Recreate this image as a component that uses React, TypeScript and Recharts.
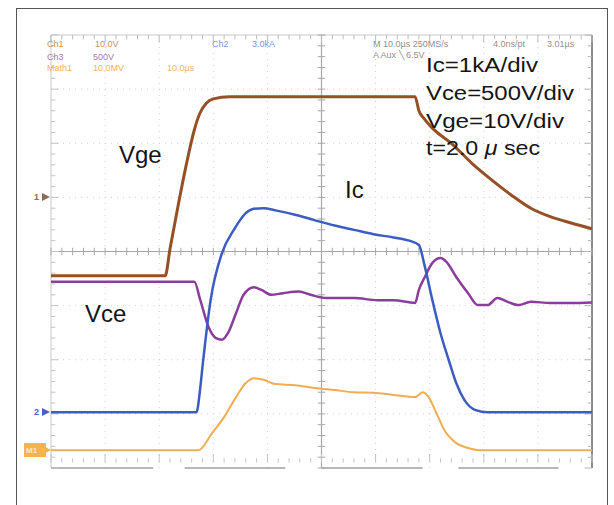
import React from "react";
import { ComposedChart, Line, XAxis, YAxis, ReferenceLine } from "recharts";

// Time axis in divisions (10 div, 2.0 µs/div), amplitude in divisions (8 div)
const vgeTime = [0, 2.11, 2.2, 2.35, 2.5, 2.65, 2.75, 2.87, 3.0, 3.3, 4.5, 5.5, 6.73, 6.8, 6.9, 7.05, 7.42, 7.78, 8.15, 8.5, 8.87, 9.24, 9.6, 10];
const vgeValue = [3.55, 3.55, 4.05, 4.85, 5.6, 6.25, 6.55, 6.74, 6.82, 6.86, 6.86, 6.86, 6.86, 6.6, 6.45, 6.28, 5.98, 5.63, 5.32, 5.05, 4.8, 4.64, 4.53, 4.42];

const vceTime = [0, 2.65, 2.76, 2.91, 3.05, 3.16, 3.27, 3.42, 3.56, 3.75, 3.89, 4.07, 4.29, 4.58, 4.8, 5.09, 5.6, 6.04, 6.33, 6.73, 6.8, 6.91, 7.05, 7.2, 7.31, 7.49, 7.71, 7.89, 8.07, 8.25, 8.44, 8.65, 8.87, 9.24, 9.6, 10];
const vceValue = [3.44, 3.44, 3.1, 2.61, 2.4, 2.37, 2.49, 2.86, 3.2, 3.34, 3.29, 3.2, 3.23, 3.26, 3.2, 3.14, 3.14, 3.1, 3.1, 3.05, 3.29, 3.53, 3.79, 3.88, 3.81, 3.53, 3.23, 3.01, 3.01, 3.14, 3.07, 3.01, 3.07, 3.05, 3.05, 3.06];

const icTime = [0, 2.69, 2.75, 2.8, 2.95, 3.16, 3.38, 3.6, 3.75, 3.93, 4.15, 4.51, 4.87, 5.24, 5.6, 5.96, 6.33, 6.62, 6.8, 6.91, 7.05, 7.2, 7.35, 7.49, 7.64, 7.85, 8.07, 10];
const icValue = [1.03, 1.03, 1.4, 1.87, 3.1, 3.97, 4.4, 4.71, 4.79, 4.8, 4.76, 4.68, 4.58, 4.48, 4.4, 4.32, 4.26, 4.2, 4.12, 3.72, 3.1, 2.49, 2.0, 1.57, 1.26, 1.07, 1.03, 1.03];

const powerTime = [0, 2.73, 2.98, 3.2, 3.42, 3.6, 3.75, 3.93, 4.15, 4.51, 4.87, 5.24, 5.6, 5.96, 6.33, 6.73, 6.87, 6.98, 7.13, 7.27, 7.49, 7.71, 7.93, 10];
const powerValue = [0.33, 0.33, 0.65, 0.94, 1.31, 1.57, 1.66, 1.63, 1.55, 1.53, 1.48, 1.44, 1.4, 1.39, 1.35, 1.31, 1.4, 1.31, 1.0, 0.7, 0.46, 0.37, 0.33, 0.33];

const traceLabels = ["Vge", "Ic", "Vce"];
const scaleLabels = ["Ic=1kA/div", "Vce=500V/div", "Vge=10V/div"];

const X_DIVS = 10;
const Y_DIVS = 8;

const zip = (t: number[], v: number[]) => t.map((x, i) => ({ t: x, v: v[i] }));

const vgeData = zip(vgeTime, vgeValue);
const vceData = zip(vceTime, vceValue);
const icData = zip(icTime, icValue);
const powerData = zip(powerTime, powerValue);

const range = (n: number) => Array.from({ length: n + 1 }, (_, i) => i);

const minorX = range(X_DIVS * 5).map((i) => i * 0.2);
const minorY = range(Y_DIVS * 5).map((i) => i * 0.2);

const bottomBars: [number, number][] = [
  [0, 1.89],
  [2.47, 4.33],
  [5, 6.87],
  [7.53, 9.38],
];

const FONT = "'Liberation Sans', Arial, sans-serif";

export default function App() {
  const tickLines: React.ReactNode[] = [];
  // minor ticks on crosshair and edges
  minorX.forEach((x, i) => {
    const major = i % 5 === 0;
    tickLines.push(
      <ReferenceLine key={`cx${i}`} segment={[{ x, y: 4 - 0.07 }, { x, y: 4 + 0.07 }]} stroke="#a8a8a8" strokeWidth={1} />,
      <ReferenceLine key={`tx${i}`} segment={[{ x, y: 8 }, { x, y: major ? 7.86 : 7.92 }]} stroke="#bcbcbc" strokeWidth={1} />,
      <ReferenceLine key={`bx${i}`} segment={[{ x, y: 0.1 }, { x, y: major ? 0.26 : 0.18 }]} stroke="#c4c4c4" strokeWidth={1} />
    );
  });
  minorY.forEach((y, i) => {
    const major = i % 5 === 0;
    tickLines.push(
      <ReferenceLine key={`cy${i}`} segment={[{ x: 5 - 0.07, y }, { x: 5 + 0.07, y }]} stroke="#a8a8a8" strokeWidth={1} />,
      <ReferenceLine key={`ly${i}`} segment={[{ x: 0, y }, { x: major ? 0.14 : 0.08, y }]} stroke="#c4c4c4" strokeWidth={1} />,
      <ReferenceLine key={`ry${i}`} segment={[{ x: 10, y }, { x: major ? 9.86 : 9.92, y }]} stroke="#b4b4b4" strokeWidth={1} />
    );
  });

  return (
    <div style={{ position: "fixed", left: 0, top: 0, width: 614, height: 505, background: "#fff", overflow: "hidden" }}>
      <div
        style={{
          position: "absolute",
          left: 16,
          top: 8,
          width: 592,
          height: 540,
          border: "1.5px solid #555",
          boxSizing: "border-box",
        }}
      />
      <div style={{ position: "absolute", left: 0, top: 0 }}>
        <ComposedChart width={614} height={505} margin={{ top: 35, right: 22, bottom: 37, left: 51 }}>
          <XAxis dataKey="t" type="number" domain={[0, X_DIVS]} hide allowDataOverflow />
          <YAxis type="number" domain={[0, Y_DIVS]} hide allowDataOverflow />
          {range(X_DIVS).slice(1, X_DIVS).filter((x) => x !== 5).map((x) => (
            <ReferenceLine key={`gx${x}`} x={x} stroke="#cfcfcf" strokeDasharray="1 5" />
          ))}
          {range(Y_DIVS).slice(1, Y_DIVS).filter((y) => y !== 4).map((y) => (
            <ReferenceLine key={`gy${y}`} y={y} stroke="#cfcfcf" strokeDasharray="1 5" />
          ))}
          <ReferenceLine x={5} stroke="#a8a8a8" strokeWidth={1.2} />
          <ReferenceLine y={4} stroke="#a8a8a8" strokeWidth={1.2} />
          <ReferenceLine y={8} stroke="#c8c8c8" strokeWidth={1} />
          <ReferenceLine x={0} stroke="#c8c8c8" strokeWidth={1} />
          <ReferenceLine x={10} stroke="#8a8a8a" strokeWidth={2} />
          {bottomBars.map(([a, b], i) => (
            <ReferenceLine key={`bb${i}`} segment={[{ x: a, y: 0 }, { x: b, y: 0 }]} stroke="#a0a0a0" strokeWidth={1.5} />
          ))}
          {tickLines}
          <Line data={powerData} dataKey="v" type="monotone" dot={false} stroke="#f2ac52" strokeWidth={2} isAnimationActive={false} />
          <Line data={vceData} dataKey="v" type="monotone" dot={false} stroke="#8b3c9c" strokeWidth={2.5} isAnimationActive={false} />
          <Line data={icData} dataKey="v" type="monotone" dot={false} stroke="#3c5cc2" strokeWidth={2.5} isAnimationActive={false} />
          <Line data={vgeData} dataKey="v" type="monotone" dot={false} stroke="#955026" strokeWidth={3} isAnimationActive={false} />
        </ComposedChart>
      </div>
      <svg width={614} height={505} style={{ position: "absolute", left: 0, top: 0, pointerEvents: "none" }}>
        {/* scope readout */}
        <g fontFamily={FONT} fontSize={9}>
          <text x={47} y={47} fill="#c8925c">Ch1</text>
          <text x={95} y={47} fill="#c8925c">10.0V</text>
          <text x={212} y={47} fill="#7d96d6">Ch2</text>
          <text x={252} y={47} fill="#7d96d6">3.0kA</text>
          <text x={47} y={60} fill="#a878b8">Ch3</text>
          <text x={93} y={60} fill="#a878b8">500V</text>
          <text x={47} y={71} fill="#f2b466">Math1</text>
          <text x={93} y={71} fill="#f2b466">10.0MV</text>
          <text x={167} y={71} fill="#f2b466">10.0µs</text>
          <text x={373} y={47} fill="#909090">M 10.0µs 250MS/s</text>
          <text x={493} y={47} fill="#909090">4.0ns/pt</text>
          <text x={547} y={47} fill="#909090">3.01µs</text>
          <text x={373} y={58} fill="#909090">A  Aux  ╲ 6.5V</text>
        </g>
        {/* channel reference markers */}
        <g fontFamily={FONT} fontSize={9} fontWeight="bold">
          <text x={34} y={200} fill="#8d6a52">1</text>
          <polygon points="42,193 50,197 42,201" fill="#8d6a52" />
          <text x={34} y={415} fill="#4a5fc0">2</text>
          <polygon points="42,408 50,412 42,416" fill="#4a5fc0" />
          <rect x={24} y={443} width={22} height={14} fill="#f3b450" />
          <text x={26} y={453} fill="#fde9c8" fontSize={8}>M1</text>
          <polygon points="44,446 51,450 44,454" fill="#f3b450" />
        </g>
        {/* trace names */}
        <g fontFamily={FONT} fontSize={24} fill="#151515">
          <text x={119} y={163}>{traceLabels[0]}</text>
          <text x={345} y={198}>{traceLabels[1]}</text>
          <text x={85} y={322}>{traceLabels[2]}</text>
        </g>
        {/* scale settings */}
        <g fontFamily={FONT} fontSize={20} fill="#151515">
          <text x={426} y={72} textLength={112} lengthAdjust="spacingAndGlyphs">{scaleLabels[0]}</text>
          <text x={426} y={100} textLength={148} lengthAdjust="spacingAndGlyphs">{scaleLabels[1]}</text>
          <text x={426} y={128} textLength={138} lengthAdjust="spacingAndGlyphs">{scaleLabels[2]}</text>
          <text x={426} y={155} textLength={114} lengthAdjust="spacingAndGlyphs">
            t=2.0 <tspan fontStyle="italic">μ</tspan> sec
          </text>
        </g>
      </svg>
    </div>
  );
}
